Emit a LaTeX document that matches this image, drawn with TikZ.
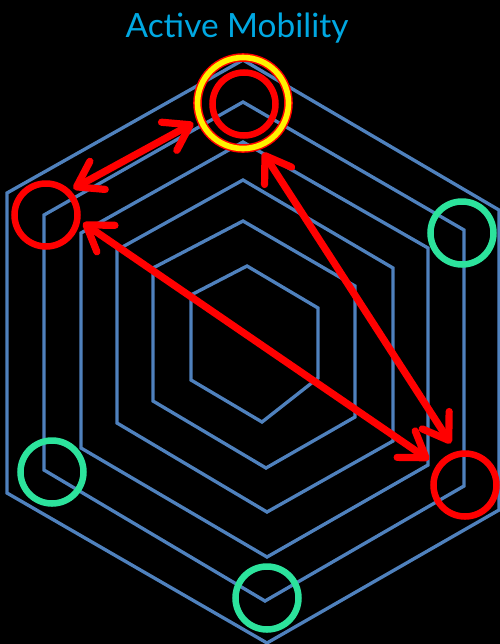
\documentclass[tikz,border=0pt]{standalone}
\usepackage{fontspec}
\setmainfont{Lato}
\usepackage{xcolor}
\usepackage{tikz}
\usetikzlibrary{arrows.meta}
\definecolor{hexblue}{RGB}{79,129,189}
\definecolor{mintgreen}{RGB}{44,227,156}
\definecolor{titlecyan}{RGB}{0,168,226}

\begin{document}
\begin{tikzpicture}[
  x=0.2mm, y=-0.2mm,
  hexline/.style={draw=hexblue, line width=1.9pt},
  spot/.style={circle, draw, line width=3.7pt, inner sep=0pt, minimum size=12.6mm},
  redspot/.style={spot, draw=red},
  greenspot/.style={spot, draw=mintgreen},
  ring/.style={circle, draw=red, line width=0.85pt, double=yellow, double distance=3.2pt, inner sep=0pt, minimum size=18.2mm, outer sep=1.6mm},
  arrow/.style={{Straight Barb[length=4.8mm, width=6.4mm, round]}-{Straight Barb[length=4.8mm, width=6.4mm, round]}, line width=4.1pt, draw=red, line cap=round}
]
\useasboundingbox (0,0) rectangle (500,644);
\fill[black] (0,0) rectangle (500,644);
% hexagons, outside in
\draw[hexline] (243,60) -- (499,210) -- (499,510) -- (267,643) -- (7,493) -- (7,193) -- cycle;
\draw[hexline] (243,102) -- (464,230) -- (464,486) -- (265,601) -- (44,470) -- (44,215) -- cycle;
\draw[hexline] (243,142) -- (428,248) -- (428,465) -- (267,557) -- (81,448) -- (81,233) -- cycle;
\draw[hexline] (243,180) -- (393,268) -- (393,441) -- (267,512) -- (117,423) -- (117,250) -- cycle;
\draw[hexline] (243,221) -- (355,286) -- (355,417) -- (266,468) -- (153,401) -- (153,268) -- cycle;
\draw[hexline] (247,266) -- (318,308) -- (318,378) -- (262,422) -- (191,380) -- (191,295) -- cycle;
% title
\node[font=\fontsize{19}{22}\selectfont, text=titlecyan, anchor=base] (title) at (237,37) {Active Mobility};
% circles
\node[ring] (ring) at (243,103) {};
\node[redspot] (top) at (244,104) {};
\node[redspot, outer sep=1.3mm] (left) at (46,215) {};
\node[redspot, outer sep=2.5mm] (lowright) at (465,485) {};
\node[greenspot] (upright) at (462,233) {};
\node[greenspot] (lowleft) at (52,472) {};
\node[greenspot] (bottom) at (267,598) {};
% arrows
\draw[arrow] (left.44) -- (ring.202);
\draw[arrow] (left.-12) -- (lowright.145);
\draw[arrow] (ring.-68) -- (lowright.109);
\end{tikzpicture}
\end{document}
